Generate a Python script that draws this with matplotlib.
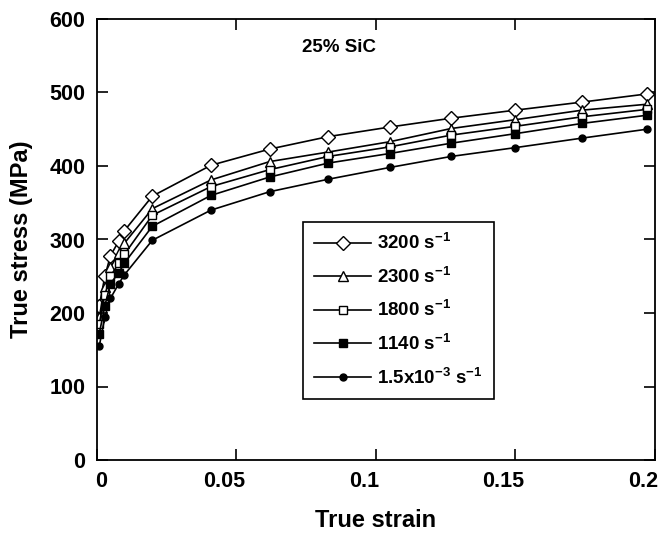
import matplotlib
matplotlib.use("Agg")
import matplotlib.pyplot as plt
import matplotlib.transforms as mtransforms

plt.rcParams["font.family"] = ["Liberation Sans", "DejaVu Sans"]
plt.rcParams["font.weight"] = "bold"
plt.rcParams["mathtext.fontset"] = "custom"
plt.rcParams["mathtext.rm"] = "Liberation Sans:bold"
plt.rcParams["mathtext.bf"] = "Liberation Sans:bold"
plt.rcParams["mathtext.default"] = "bf"

# strain points (same for all rates)
strain = [0.001, 0.003, 0.005, 0.008, 0.01, 0.02, 0.041, 0.062, 0.083,
          0.105, 0.127, 0.150, 0.174, 0.197]

stress_3200 = [210, 250, 278, 298, 312, 359, 401, 423, 440, 453, 465, 476, 487, 498]
stress_2300 = [195, 235, 262, 282, 295, 342, 381, 406, 419, 433, 451, 463, 476, 484]
stress_1800 = [185, 225, 250, 268, 280, 333, 372, 395, 413, 426, 442, 454, 467, 477]
stress_1140 = [172, 210, 240, 255, 268, 318, 360, 385, 404, 417, 431, 444, 458, 469]
stress_qs = [155, 195, 220, 240, 252, 299, 340, 365, 382, 398, 413, 425, 438, 450]

labels = [r"3200 s$^{-1}$", r"2300 s$^{-1}$", r"1800 s$^{-1}$",
          r"1140 s$^{-1}$", r"1.5x10$^{-3}$ s$^{-1}$"]

fig = plt.figure(figsize=(6.62, 5.35), dpi=100)
ax = fig.add_axes([96.5 / 662, 75 / 535, 558.5 / 662, 441 / 535])

ax.plot(strain, stress_3200, "-", color="black", lw=1.2, marker="D", ms=7,
        mfc="white", mec="black", mew=1.0, label=labels[0])
ax.plot(strain, stress_2300, "-", color="black", lw=1.2, marker="^", ms=7.5,
        mfc="white", mec="black", mew=1.0, label=labels[1])
ax.plot(strain, stress_1800, "-", color="black", lw=1.2, marker="s", ms=6,
        mfc="white", mec="black", mew=1.0, label=labels[2])
ax.plot(strain, stress_1140, "-", color="black", lw=1.2, marker="s", ms=5.5,
        mfc="black", mec="black", label=labels[3])
ax.plot(strain, stress_qs, "-", color="black", lw=1.2, marker="o", ms=5,
        mfc="black", mec="black", label=labels[4])

ax.set_xlim(0, 0.2)
ax.set_ylim(0, 600)
ax.set_xticks([0, 0.05, 0.1, 0.15, 0.2])
ax.set_xticklabels(["0", "0.05", "0.1", "0.15", "0.2"])
ax.set_yticks([0, 100, 200, 300, 400, 500, 600])
ax.tick_params(direction="in", length=8, width=1.2, top=True, right=True,
               labelsize=15.5)
ax.tick_params(axis="x", pad=8)
ax.tick_params(axis="y", pad=8)
for s in ax.spines.values():
    s.set_linewidth(1.3)

# x tick labels sit a bit left of their ticks in the original
for i, lab in enumerate(ax.get_xticklabels()):
    dx = 5 if i == 0 else -12
    off = mtransforms.ScaledTranslation(dx / 100, 0, fig.dpi_scale_trans)
    lab.set_transform(lab.get_transform() + off)

ax.set_xlabel("True strain", fontsize=17, fontweight="bold", labelpad=12)
ax.set_ylabel("True stress (MPa)", fontsize=17, fontweight="bold", labelpad=12)

ax.text(0.435, 0.936, "25% SiC", transform=ax.transAxes, fontsize=13.5,
        fontweight="bold", ha="center", va="center")

leg = ax.legend(loc="upper left", bbox_to_anchor=(0.37, 0.54),
                fontsize=13.5, handlelength=3.0, handletextpad=0.35,
                labelspacing=0.72, fancybox=False, framealpha=1,
                edgecolor="black", borderpad=0.6, borderaxespad=0)
leg.get_frame().set_linewidth(1.2)

fig.savefig("out.png", dpi=100)
